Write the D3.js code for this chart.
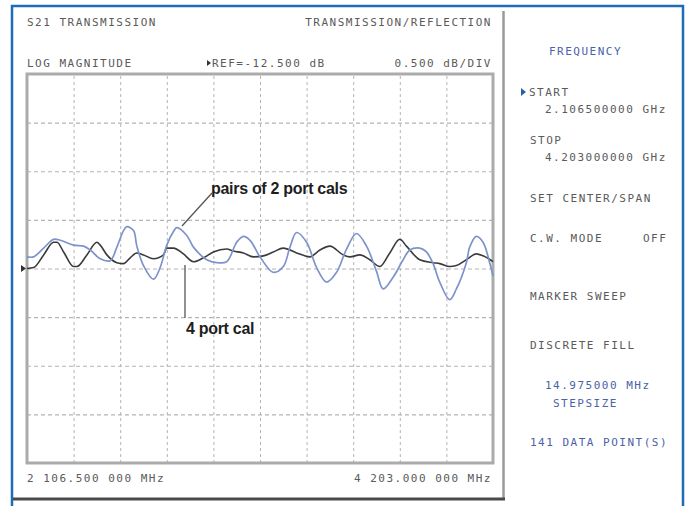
<!DOCTYPE html>
<html>
<head>
<meta charset="utf-8">
<script src="https://cdn.jsdelivr.net/npm/d3@7/dist/d3.min.js"></script>
<style>
  html, body { margin: 0; padding: 0; background: #fff; }
  svg { display: block; }
  .mono { font-family: "DejaVu Sans Mono", "Liberation Mono", monospace; font-size: 11px; letter-spacing: 1.5px; fill: #5a5a5a; }
  .mono.blue { fill: #4a62a8; }
  .note { font-family: "Liberation Sans", Arial, sans-serif; font-weight: bold; font-size: 16px; fill: #1e1e1e; letter-spacing: -0.3px; }
</style>
</head>
<body>
<script>
// Sweep settings of the network analyzer
const startMHz = 2106.5;
const stopMHz = 4203.0;
const stepMHz = 14.975;
const refDb = -12.5;
const dbPerDiv = 0.5;
const xDivs = 10;
const yDivs = 8;

// Trace of the "pairs of 2 port cals" measurement: sweep point index and S21 (dB)
const pairIdx = [0,2,5,8,10,14,17,19,22,25,27,29,30,32,33,35,38,40,42,44,45,48,50,54,57,60,63,65,67,70,74,77,79,81,84,87,90,93,96,99,102,105,107,110,113,115,118,120,122,124,127,129,132,133,135,137,139,140];
const pairDb = [-12.38,-12.38,-12.29,-12.20,-12.21,-12.26,-12.27,-12.31,-12.40,-12.42,-12.28,-12.11,-12.07,-12.11,-12.27,-12.47,-12.61,-12.49,-12.26,-12.12,-12.08,-12.16,-12.28,-12.41,-12.44,-12.43,-12.23,-12.17,-12.21,-12.38,-12.54,-12.48,-12.28,-12.13,-12.23,-12.49,-12.64,-12.54,-12.30,-12.14,-12.27,-12.53,-12.71,-12.59,-12.41,-12.31,-12.29,-12.33,-12.45,-12.64,-12.82,-12.71,-12.44,-12.28,-12.17,-12.23,-12.44,-12.58];

// Trace of the "4 port cal" measurement
const quadIdx = [0,2,5,8,9,11,14,15,18,21,22,24,27,29,31,33,35,38,41,42,44,47,50,53,56,60,62,65,68,71,74,77,81,85,88,91,95,97,100,103,106,109,112,114,118,122,124,127,129,132,135,137,140];
const quadDb = [-12.50,-12.49,-12.36,-12.23,-12.23,-12.33,-12.48,-12.48,-12.36,-12.23,-12.26,-12.36,-12.44,-12.45,-12.39,-12.34,-12.36,-12.40,-12.36,-12.29,-12.29,-12.35,-12.43,-12.39,-12.33,-12.30,-12.32,-12.34,-12.38,-12.37,-12.33,-12.29,-12.34,-12.38,-12.31,-12.27,-12.36,-12.38,-12.36,-12.41,-12.48,-12.34,-12.20,-12.27,-12.41,-12.44,-12.45,-12.48,-12.47,-12.41,-12.35,-12.37,-12.43];

// Screen annotations
const headerLeft = ["S21 TRANSMISSION", "LOG MAGNITUDE"];
const headerRight = ["TRANSMISSION/REFLECTION", "0.500 dB/DIV"];
const refLabel = "REF=-12.500 dB";
const startLabel = "2 106.500 000 MHz";
const stopLabel = "4 203.000 000 MHz";
const menuItems = [
  {t: "FREQUENCY", x: 549, y: 55, blue: true},
  {t: "START", x: 529, y: 96},
  {t: "2.106500000 GHz", x: 545, y: 113},
  {t: "STOP", x: 530, y: 144},
  {t: "4.203000000 GHz", x: 545, y: 161},
  {t: "SET CENTER/SPAN", x: 530, y: 202},
  {t: "C.W. MODE", x: 530, y: 242},
  {t: "OFF", x: 643, y: 242},
  {t: "MARKER SWEEP", x: 530, y: 300},
  {t: "DISCRETE FILL", x: 530, y: 349},
  {t: "14.975000 MHz", x: 545, y: 389, blue: true},
  {t: "STEPSIZE", x: 553, y: 407, blue: true},
  {t: "141 DATA POINT(S)", x: 530, y: 446, blue: true}
];

const W = 687, H = 506;
const plot = {left: 27, right: 493, top: 74, bottom: 463};

const svg = d3.select("body").append("svg").attr("width", W).attr("height", H);
svg.append("rect").attr("width", W).attr("height", H).attr("fill", "#fff");

// Outer blue frame
svg.append("path")
  .attr("d", `M12,${H} L12,6 L683,6 L683,${H}`)
  .attr("fill", "none").attr("stroke", "#1c6db6").attr("stroke-width", 2.5);

// Display panel edges
svg.append("line").attr("x1", 503.5).attr("x2", 503.5).attr("y1", 11).attr("y2", 499)
  .attr("stroke", "#9a9a9a").attr("stroke-width", 2.5);
svg.append("line").attr("x1", 13).attr("x2", 505).attr("y1", 499).attr("y2", 499)
  .attr("stroke", "#4a4a4a").attr("stroke-width", 3);

const toMHz = i => startMHz + i * stepMHz;

const x = d3.scaleLinear().domain([startMHz, stopMHz]).range([plot.left, plot.right]);
const y = d3.scaleLinear()
  .domain([refDb - dbPerDiv * yDivs / 2, refDb + dbPerDiv * yDivs / 2])
  .range([plot.bottom, plot.top]);

// Graticule
const xTicks = d3.range(1, xDivs).map(k => startMHz + k * (stopMHz - startMHz) / xDivs);
const yTicks = d3.range(1, yDivs).map(k => y.domain()[0] + k * dbPerDiv);

const grid = svg.append("g");
grid.append("g")
  .attr("transform", `translate(0,${plot.bottom})`)
  .call(d3.axisBottom(x).tickValues(xTicks).tickSize(-(plot.bottom - plot.top)).tickFormat(""))
  .call(g => g.select(".domain").remove())
  .call(g => g.selectAll(".tick line").attr("stroke", "#b4b4b4").attr("stroke-dasharray", "3,3").attr("stroke-width", 1));
grid.append("g")
  .attr("transform", `translate(${plot.left},0)`)
  .call(d3.axisLeft(y).tickValues(yTicks).tickSize(-(plot.right - plot.left)).tickFormat(""))
  .call(g => g.select(".domain").remove())
  .call(g => g.selectAll(".tick line").attr("stroke", "#b4b4b4").attr("stroke-dasharray", "4,3").attr("stroke-width", 1.2));

// Graticule border
svg.append("rect")
  .attr("x", plot.left).attr("y", plot.top)
  .attr("width", plot.right - plot.left).attr("height", plot.bottom - plot.top)
  .attr("fill", "none").attr("stroke", "#ababab").attr("stroke-width", 3);

// Traces
const line = d3.line().x(d => x(d[0])).y(d => y(d[1]));
const pairs = pairIdx.map((i, k) => [toMHz(i), pairDb[k]]);
const quad = quadIdx.map((i, k) => [toMHz(i), quadDb[k]]);

svg.append("path").datum(quad)
  .attr("d", line.curve(d3.curveMonotoneX))
  .attr("fill", "none").attr("stroke", "#3a3a3a").attr("stroke-width", 1.6);
svg.append("path").datum(pairs)
  .attr("d", line.curve(d3.curveCatmullRom.alpha(0.5)))
  .attr("fill", "none").attr("stroke", "#7d93cc").attr("stroke-width", 1.7);

// Reference level marker
const yRef = y(refDb);
svg.append("path")
  .attr("d", `M21,${yRef - 3.5} L26,${yRef} L21,${yRef + 3.5} Z`)
  .attr("fill", "#333");

// Header texts
svg.selectAll("text.hl").data(headerLeft).join("text")
  .attr("class", "mono hl").attr("x", 27).attr("y", (d, i) => i ? 67 : 26).text(d => d);
svg.selectAll("text.hr").data(headerRight).join("text")
  .attr("class", "mono hr").attr("x", 492).attr("y", (d, i) => i ? 67 : 26)
  .attr("text-anchor", "end").text(d => d);
svg.append("path").attr("d", "M207,60 L211,63 L207,66 Z").attr("fill", "#333");
svg.append("text").attr("class", "mono").attr("x", 212).attr("y", 67).text(refLabel);

// Frequency span labels
svg.append("text").attr("class", "mono").attr("x", 27).attr("y", 482).text(startLabel);
svg.append("text").attr("class", "mono").attr("x", 492).attr("y", 482)
  .attr("text-anchor", "end").text(stopLabel);

// Soft-key menu
svg.selectAll("text.menu").data(menuItems).join("text")
  .attr("class", d => "mono menu" + (d.blue ? " blue" : ""))
  .attr("x", d => d.x).attr("y", d => d.y).text(d => d.t);
svg.append("path").attr("d", "M521,88 L526,92 L521,96 Z").attr("fill", "#2a5fb0");

// Trace callouts
svg.append("line").attr("x1", 212).attr("y1", 193).attr("x2", 182).attr("y2", 226)
  .attr("stroke", "#555").attr("stroke-width", 1.3);
svg.append("text").attr("class", "note").attr("x", 211).attr("y", 194).text("pairs of 2 port cals");
svg.append("line").attr("x1", 185).attr("y1", 265).attr("x2", 185).attr("y2", 318)
  .attr("stroke", "#555").attr("stroke-width", 1.3);
svg.append("text").attr("class", "note").attr("x", 186).attr("y", 334).text("4 port cal");
</script>
</body>
</html>
